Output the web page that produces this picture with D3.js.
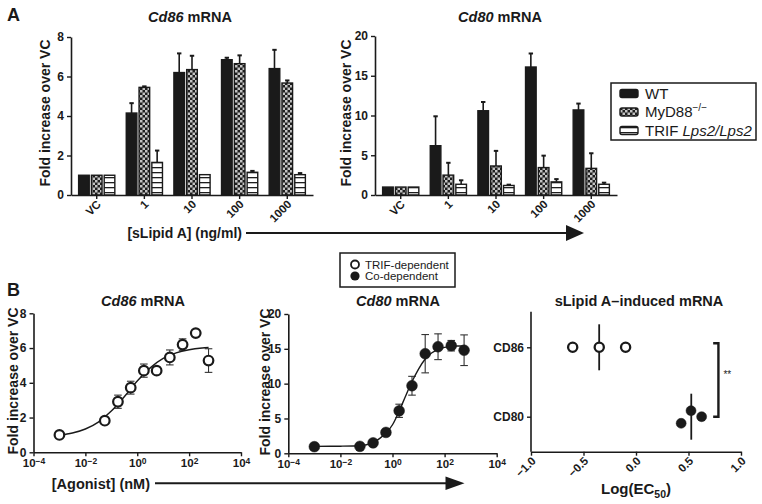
<!DOCTYPE html>
<html>
<head>
<meta charset="utf-8">
<script src="https://cdn.jsdelivr.net/npm/d3@7"></script>
<style>
  html, body { margin: 0; padding: 0; background: #fff; }
  svg { display: block; }
</style>
</head>
<body>
<script>
// ---------------- DATA ----------------
// Panel A: bar charts
const catsA = ["VC", "1", "10", "100", "1000"];
const seriesA = ["WT", "MyD88", "TRIF"];

const cd86WT      = [1, 4.15, 6.2, 6.85, 6.4];
const cd86WTErr   = [0, 0.5, 0.97, 0.1, 0.95];
const cd86MyD     = [1, 5.45, 6.35, 6.65, 5.67];
const cd86MyDErr  = [0, 0.05, 0.7, 0.42, 0.13];
const cd86TRIF    = [1, 1.65, 1.03, 1.15, 1.03];
const cd86TRIFErr = [0, 0.6, 0, 0.07, 0.08];

const cd80WT      = [1, 6.2, 10.6, 16.1, 10.7];
const cd80WTErr   = [0, 3.7, 1.1, 1.7, 0.8];
const cd80MyD     = [1, 2.5, 3.65, 3.45, 3.35];
const cd80MyDErr  = [0, 1.55, 1.9, 1.5, 1.9];
const cd80TRIF    = [1, 1.35, 1.2, 1.65, 1.35];
const cd80TRIFErr = [0, 0.5, 0.1, 0.35, 0.2];

const yTicksCd86 = [0, 2, 4, 6, 8];
const yTicksCd80 = [0, 5, 10, 15, 20];

// Panel B: dose response (agonist, nM)
const doses = [0.001, 0.056, 0.18, 0.56, 1.8, 5.6, 18, 56, 180, 560];
const doseCd86    = [1.0, 1.82, 2.91, 3.72, 4.7, 4.7, 5.46, 6.2, 6.86, 5.28];
const doseCd86Err = [0, 0.08, 0.38, 0.37, 0.38, 0.1, 0.43, 0.33, 0.17, 0.68];
const doseCd80    = [0.95, 1.0, 1.5, 3.0, 6.1, 9.7, 14.3, 15.3, 15.45, 14.8];
const doseCd80Err = [0, 0, 0.2, 0.3, 0.95, 1.35, 2.75, 1.85, 0.75, 2.2];

// fitted curves (log10 dose, value)
const fitCd86X = [-3, -2.5, -2, -1.5, -1, -0.5, 0, 0.5, 1, 1.5, 2, 2.5, 2.75];
const fitCd86Y = [0.98, 1.11, 1.34, 1.74, 2.37, 3.2, 4.1, 4.86, 5.4, 5.72, 5.9, 6.0, 6.03];
const fitCd80X = [-3, -2, -1.5, -1.25, -1, -0.75, -0.5, -0.25, 0, 0.25, 0.5, 0.75, 1, 1.25, 1.5, 1.75, 2, 2.5, 2.75];
const fitCd80Y = [1.0, 1.02, 1.05, 1.1, 1.22, 1.55, 2.1, 2.9, 4.1, 6.0, 8.2, 10.3, 12.1, 13.5, 14.4, 14.9, 15.2, 15.4, 15.4];

const logTicks = [1e-4, 1e-2, 1, 1e2, 1e4];
const logTickExp = ["\u22124", "\u22122", "0", "2", "4"];

// Panel C: log(EC50)
const catsC = ["CD86", "CD80"];
const ec50Cd86 = [-0.603, -0.35, -0.099];
const ec50Cd80 = [0.43, 0.524, 0.625];
const xTicksC = [-1, -0.5, 0, 0.5, 1];
const xTickLabelsC = ["\u22121.0", "\u22120.5", "0.0", "0.5", "1.0"];

// ---------------- DRAWING ----------------
const FONT = "'Liberation Sans', Arial, Helvetica, sans-serif";
const svg = d3.select("body").append("svg")
  .attr("width", 762).attr("height", 504)
  .style("font-family", FONT);

const defs = svg.append("defs");
const chk = defs.append("pattern").attr("id", "checker")
  .attr("width", 5).attr("height", 5).attr("patternUnits", "userSpaceOnUse");
chk.append("rect").attr("width", 5).attr("height", 5).attr("fill", "#1e1e1e");
chk.append("rect").attr("width", 2.5).attr("height", 2.5).attr("fill", "#c4c4c4");
chk.append("rect").attr("x", 2.5).attr("y", 2.5).attr("width", 2.5).attr("height", 2.5).attr("fill", "#c4c4c4");
const str = defs.append("pattern").attr("id", "stripes")
  .attr("width", 5).attr("height", 5).attr("patternUnits", "userSpaceOnUse");
str.append("rect").attr("width", 5).attr("height", 5).attr("fill", "#fff");
str.append("rect").attr("y", 2).attr("width", 5).attr("height", 1.3).attr("fill", "#1e1e1e");

const fills = { WT: "#1a1a1a", MyD88: "url(#checker)", TRIF: "url(#stripes)" };

function styleAxis(g, fs) {
  g.select(".domain").attr("stroke", "#1a1a1a").attr("stroke-width", 1.6);
  g.selectAll(".tick line").attr("stroke", "#1a1a1a").attr("stroke-width", 1.4);
  g.selectAll(".tick text").attr("fill", "#1a1a1a")
    .style("font-family", FONT).style("font-weight", "bold").style("font-size", fs + "px");
}

function title(x, y, italicPart, rest, size) {
  const t = svg.append("text").attr("x", x).attr("y", y).attr("text-anchor", "middle")
    .style("font-size", size + "px").style("font-weight", "bold").attr("fill", "#1a1a1a");
  t.append("tspan").style("font-style", "italic").text(italicPart);
  t.append("tspan").text(rest);
}

function yLabel(x, y) {
  svg.append("text").attr("transform", `translate(${x},${y}) rotate(-90)`)
    .attr("text-anchor", "middle").style("font-size", "14px").style("font-weight", "bold")
    .attr("fill", "#1a1a1a").text("Fold increase over VC");
}

function barChart(o) {
  const x0 = d3.scaleBand().domain(catsA).range(o.xr).paddingInner(0.24).paddingOuter(0.16);
  const x1 = d3.scaleBand().domain(seriesA).range([0, x0.bandwidth()]).paddingInner(0.17);
  const y = d3.scaleLinear().domain(o.yd).range(o.yr);
  const rows = [];
  catsA.forEach((c, i) => seriesA.forEach((s, j) => rows.push({ c, s, v: o.vals[j][i], e: o.errs[j][i] })));

  const g = svg.append("g");
  // error bars (upper only)
  const eb = g.selectAll("g.eb").data(rows.filter(d => d.e > 0)).join("g");
  eb.append("line")
    .attr("x1", d => x0(d.c) + x1(d.s) + x1.bandwidth() / 2)
    .attr("x2", d => x0(d.c) + x1(d.s) + x1.bandwidth() / 2)
    .attr("y1", d => y(d.v)).attr("y2", d => y(d.v + d.e))
    .attr("stroke", "#1a1a1a").attr("stroke-width", 1.6);
  eb.append("line")
    .attr("x1", d => x0(d.c) + x1(d.s) + x1.bandwidth() / 2 - 2.2)
    .attr("x2", d => x0(d.c) + x1(d.s) + x1.bandwidth() / 2 + 2.2)
    .attr("y1", d => y(d.v + d.e)).attr("y2", d => y(d.v + d.e))
    .attr("stroke", "#1a1a1a").attr("stroke-width", 2);
  // bars
  g.selectAll("rect.bar").data(rows).join("rect")
    .attr("x", d => x0(d.c) + x1(d.s))
    .attr("width", x1.bandwidth())
    .attr("y", d => y(d.v)).attr("height", d => y(0) - y(d.v))
    .attr("fill", d => fills[d.s]).attr("stroke", "#1a1a1a").attr("stroke-width", 1.4);

  // axes
  const ya = svg.append("g").attr("transform", `translate(${o.xr[0]},0)`)
    .call(d3.axisLeft(y).tickValues(o.ticks).tickSize(4).tickSizeOuter(0));
  styleAxis(ya, 12);
  const xa = svg.append("g").attr("transform", `translate(0,${o.yr[0]})`)
    .call(d3.axisBottom(x0).tickSize(4).tickSizeOuter(0));
  styleAxis(xa, 11.5);
  xa.selectAll(".tick text").attr("y", 0).attr("dy", 0)
    .attr("text-anchor", "end").attr("transform", "translate(5,10) rotate(-45)");
}

// ---- Panel A ----
svg.append("text").attr("x", 7).attr("y", 21).style("font-size", "18px").style("font-weight", "bold")
  .attr("fill", "#1a1a1a").text("A");

barChart({ xr: [71, 313], yr: [195, 37], yd: [0, 8], ticks: yTicksCd86,
  vals: [cd86WT, cd86MyD, cd86TRIF], errs: [cd86WTErr, cd86MyDErr, cd86TRIFErr] });
barChart({ xr: [375, 617], yr: [195, 36], yd: [0, 20], ticks: yTicksCd80,
  vals: [cd80WT, cd80MyD, cd80TRIF], errs: [cd80WTErr, cd80MyDErr, cd80TRIFErr] });

title(190, 21.5, "Cd86", " mRNA", 14.5);
title(500, 21.5, "Cd80", " mRNA", 14.5);
yLabel(50, 113);
yLabel(351, 113);

// legend A
const legA = svg.append("g");
legA.append("rect").attr("x", 611).attr("y", 83).attr("width", 145).attr("height", 57)
  .attr("fill", "#fff").attr("stroke", "#1a1a1a").attr("stroke-width", 1.5);
const legRowsA = [
  { s: "WT", y: 93.5 },
  { s: "MyD88", y: 112 },
  { s: "TRIF", y: 130.5 }
];
legRowsA.forEach(r => {
  legA.append("rect").attr("x", 620).attr("y", r.y - 4).attr("width", 18).attr("height", 8).attr("rx", 2)
    .attr("fill", fills[r.s]).attr("stroke", "#1a1a1a").attr("stroke-width", 1.4);
});
legA.append("text").attr("x", 645).attr("y", 98.5).style("font-size", "15px").attr("fill", "#1a1a1a").text("WT");
const myd = legA.append("text").attr("x", 645).attr("y", 117).style("font-size", "15px").attr("fill", "#1a1a1a");
myd.append("tspan").text("MyD88");
myd.append("tspan").attr("dy", -6).style("font-size", "10px").text("\u2212/\u2212");
const trif = legA.append("text").attr("x", 645).attr("y", 135.5).style("font-size", "15px").attr("fill", "#1a1a1a");
trif.append("tspan").text("TRIF ");
trif.append("tspan").style("font-style", "italic").text("Lps2/Lps2");

// arrow A
svg.append("text").attr("x", 242).attr("y", 237.5).attr("text-anchor", "end")
  .style("font-size", "14px").style("font-weight", "bold").attr("fill", "#1a1a1a").text("[sLipid A] (ng/ml)");
svg.append("line").attr("x1", 246).attr("x2", 572).attr("y1", 233).attr("y2", 233)
  .attr("stroke", "#1a1a1a").attr("stroke-width", 2);
svg.append("path").attr("d", "M566,225 L584,233 L566,241 Z").attr("fill", "#1a1a1a");

// ---- Panel B ----
svg.append("text").attr("x", 7).attr("y", 296).style("font-size", "18px").style("font-weight", "bold")
  .attr("fill", "#1a1a1a").text("B");

function doseChart(o) {
  const x = d3.scaleLog().domain([1e-4, 1e4]).range(o.xr);
  const y = d3.scaleLinear().domain(o.yd).range(o.yr);
  const g = svg.append("g");
  const pts = doses.map((d, i) => ({ d, v: o.vals[i], e: o.errs[i] }));
  // error bars
  const eb = g.selectAll("g.eb").data(pts.filter(p => p.e > 0)).join("g");
  eb.append("line").attr("x1", p => x(p.d)).attr("x2", p => x(p.d))
    .attr("y1", p => y(p.v - p.e)).attr("y2", p => y(p.v + p.e))
    .attr("stroke", "#333").attr("stroke-width", 1.1);
  [-1, 1].forEach(sgn => {
    eb.append("line").attr("x1", p => x(p.d) - 3.8).attr("x2", p => x(p.d) + 3.8)
      .attr("y1", p => y(p.v + sgn * p.e)).attr("y2", p => y(p.v + sgn * p.e))
      .attr("stroke", "#333").attr("stroke-width", 1.1);
  });
  // fit curve
  const line = d3.line().x(d => x(Math.pow(10, d[0]))).y(d => y(d[1])).curve(d3.curveMonotoneX);
  g.append("path").datum(o.fitX.map((v, i) => [v, o.fitY[i]])).attr("d", line)
    .attr("fill", "none").attr("stroke", "#1a1a1a").attr("stroke-width", 1.4);
  // points
  g.selectAll("circle").data(pts).join("circle")
    .attr("cx", p => x(p.d)).attr("cy", p => y(p.v)).attr("r", o.open ? 4.8 : 5.4)
    .attr("fill", o.open ? "#fff" : "#1a1a1a")
    .attr("stroke", "#1a1a1a").attr("stroke-width", o.open ? 2.2 : 0.5);
  // axes
  const ya = svg.append("g").attr("transform", `translate(${o.xr[0]},0)`)
    .call(d3.axisLeft(y).tickValues(o.ticks).tickSize(4).tickSizeOuter(0));
  styleAxis(ya, 12);
  const xa = svg.append("g").attr("transform", `translate(0,${o.yr[0]})`)
    .call(d3.axisBottom(x).tickValues(logTicks).tickSize(4).tickSizeOuter(0).tickFormat(() => ""));
  styleAxis(xa, 11.5);
  xa.selectAll(".tick text").each(function (d, i) {
    const t = d3.select(this);
    t.text("10");
    t.append("tspan").attr("dy", "-0.45em").style("font-size", "8.5px").text(logTickExp[i]);
  });
}

doseChart({ xr: [33.5, 241], yr: [452.3, 313.3], yd: [0, 8], ticks: yTicksCd86,
  vals: doseCd86, errs: doseCd86Err, fitX: fitCd86X, fitY: fitCd86Y, open: true });
doseChart({ xr: [288.3, 496.7], yr: [453.3, 314], yd: [0, 20], ticks: yTicksCd80,
  vals: doseCd80, errs: doseCd80Err, fitX: fitCd80X, fitY: fitCd80Y, open: false });

title(143, 306, "Cd86", " mRNA", 14.5);
title(398, 306, "Cd80", " mRNA", 14.5);
yLabel(18, 381);
yLabel(270, 382);

// legend B
const legB = svg.append("g");
legB.append("rect").attr("x", 340).attr("y", 253).attr("width", 115).attr("height", 34)
  .attr("fill", "#fff").attr("stroke", "#1a1a1a").attr("stroke-width", 1.5);
legB.append("circle").attr("cx", 355).attr("cy", 264.5).attr("r", 4).attr("fill", "#fff")
  .attr("stroke", "#1a1a1a").attr("stroke-width", 1.8);
legB.append("circle").attr("cx", 355).attr("cy", 276).attr("r", 4.6).attr("fill", "#1a1a1a");
legB.append("text").attr("x", 365).attr("y", 268.5).style("font-size", "11.5px").attr("fill", "#1a1a1a").text("TRIF-dependent");
legB.append("text").attr("x", 365).attr("y", 280).style("font-size", "11.5px").attr("fill", "#1a1a1a").text("Co-dependent");

// arrow B
svg.append("text").attr("x", 150).attr("y", 488.5).attr("text-anchor", "end")
  .style("font-size", "14.5px").style("font-weight", "bold").attr("fill", "#1a1a1a").text("[Agonist] (nM)");
svg.append("line").attr("x1", 155).attr("x2", 450).attr("y1", 483.3).attr("y2", 483.3)
  .attr("stroke", "#1a1a1a").attr("stroke-width", 2);
svg.append("path").attr("d", "M445.5,476.5 L464.5,483.3 L445.5,490 Z").attr("fill", "#1a1a1a");

// ---- Panel C ----
const xC = d3.scaleLinear().domain([-1, 1]).range([531, 741]);
const yC = d3.scalePoint().domain(catsC).range([347.3, 416.7]);
const jitterPx = { CD86: [0, 0, 0], CD80: [6.6, -6, 0] };
const gC = svg.append("g");
const ptsC = [
  ...ec50Cd86.map((v, i) => ({ c: "CD86", v, j: jitterPx.CD86[i] })),
  ...ec50Cd80.map((v, i) => ({ c: "CD80", v, j: jitterPx.CD80[i] }))
];
// mean lines
[["CD86", ec50Cd86], ["CD80", ec50Cd80]].forEach(([c, arr]) => {
  const m = d3.mean(arr);
  gC.append("line").attr("x1", xC(m)).attr("x2", xC(m))
    .attr("y1", yC(c) - 23).attr("y2", yC(c) + 23)
    .attr("stroke", "#1a1a1a").attr("stroke-width", 1.8);
});
gC.selectAll("circle").data(ptsC).join("circle")
  .attr("cx", d => xC(d.v)).attr("cy", d => yC(d.c) + d.j)
  .attr("r", d => d.c === "CD86" ? 4.6 : 5)
  .attr("fill", d => d.c === "CD86" ? "#fff" : "#1a1a1a")
  .attr("stroke", "#1a1a1a").attr("stroke-width", d => d.c === "CD86" ? 2.3 : 0.5);

const yaC = svg.append("g").attr("transform", "translate(531,0)")
  .call(d3.axisLeft(yC).tickSize(4).tickSizeOuter(0));
yaC.select(".domain").attr("d", "M0,311.7V451.7");
styleAxis(yaC, 12);
const xaC = svg.append("g").attr("transform", "translate(0,451.7)")
  .call(d3.axisBottom(xC).tickValues(xTicksC).tickSize(4).tickSizeOuter(0)
    .tickFormat((d, i) => xTickLabelsC[i]));
styleAxis(xaC, 11.5);
xaC.selectAll(".tick text").attr("y", 0).attr("dy", 0)
  .attr("text-anchor", "end").attr("transform", "translate(5,10) rotate(-45)");

// significance bracket
const bx = xC(0.785), bx2 = xC(0.735);
const bTop = yC("CD86") - 4, bBot = yC("CD80");
svg.append("path").attr("d", `M${bx2},${bTop} H${bx} V${bBot} H${bx2}`)
  .attr("fill", "none").attr("stroke", "#1a1a1a").attr("stroke-width", 2.4);
svg.append("text").attr("x", bx + 5).attr("y", 378).style("font-size", "10px").attr("fill", "#1a1a1a").text("**");

svg.append("text").attr("x", 639).attr("y", 306).attr("text-anchor", "middle")
  .style("font-size", "14.5px").style("font-weight", "bold").attr("fill", "#1a1a1a").text("sLipid A\u2013induced mRNA");
const lg = svg.append("text").attr("x", 636).attr("y", 494).attr("text-anchor", "middle")
  .style("font-size", "15px").style("font-weight", "bold").attr("fill", "#1a1a1a");
lg.append("tspan").text("Log(EC");
lg.append("tspan").attr("dy", 4).style("font-size", "10.5px").text("50");
lg.append("tspan").attr("dy", -4).text(")");
</script>
</body>
</html>
